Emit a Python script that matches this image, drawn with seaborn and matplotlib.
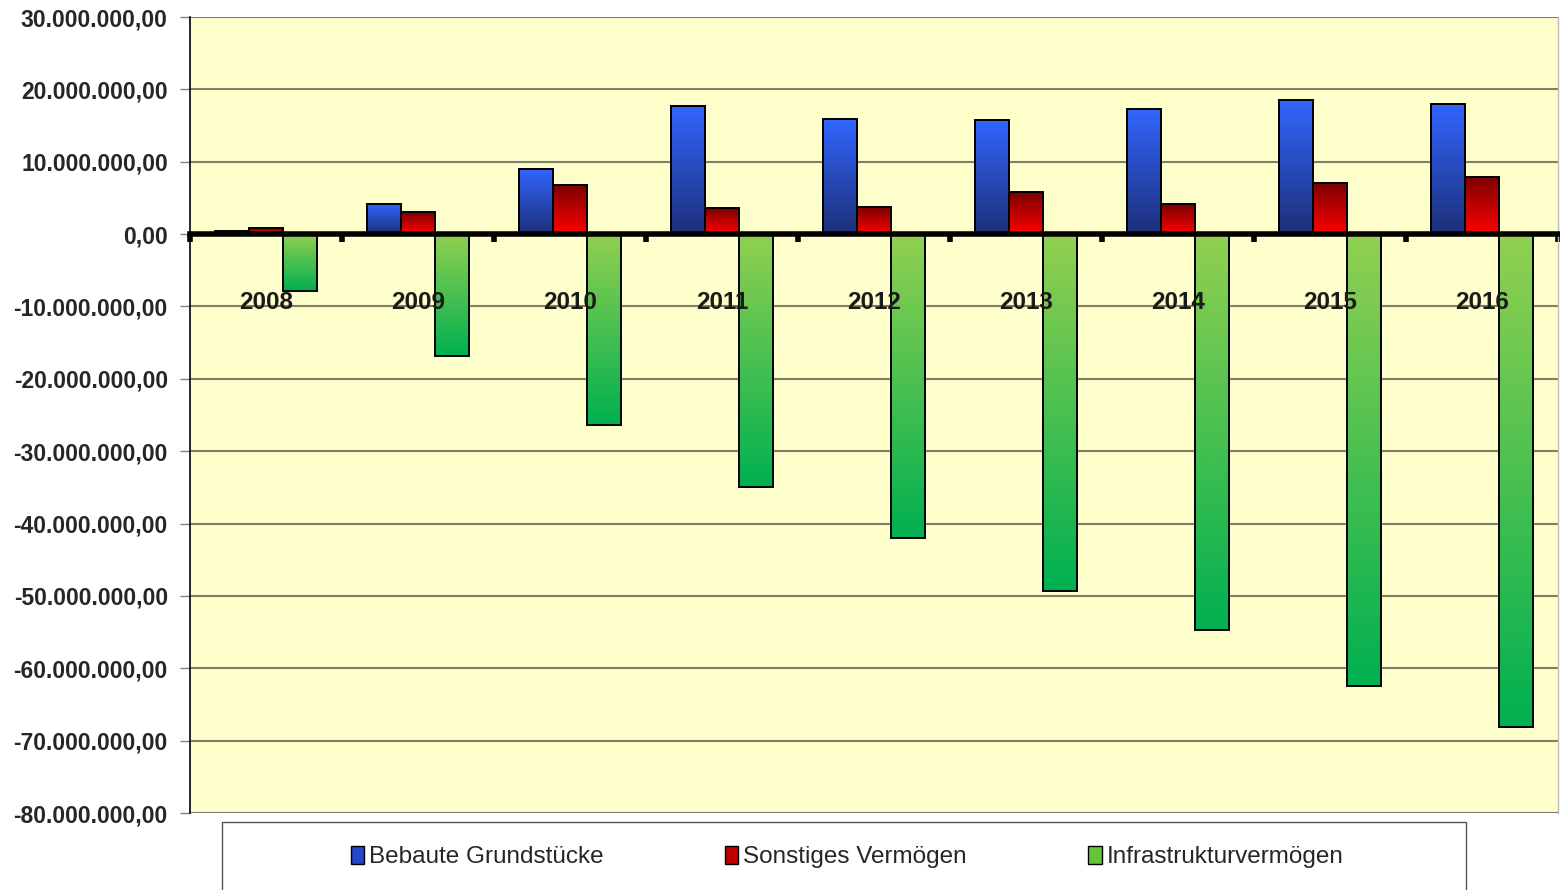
import numpy as np
import pandas as pd
import seaborn as sns
import matplotlib.pyplot as plt
from matplotlib.colors import LinearSegmentedColormap
from matplotlib.patches import Patch, Rectangle
from matplotlib.ticker import FuncFormatter, FixedLocator

# values, in euro
years = ['2008', '2009', '2010', '2011', '2012', '2013', '2014', '2015', '2016']
bebaute = [0.4e6, 4.2e6, 9.0e6, 17.7e6, 15.9e6, 15.8e6, 17.3e6, 18.5e6, 18.0e6]
sonstiges = [0.8e6, 3.1e6, 6.8e6, 3.6e6, 3.7e6, 5.8e6, 4.1e6, 7.0e6, 7.9e6]
infrastruktur = [-7.9e6, -16.9e6, -26.4e6, -35.0e6, -42.0e6, -49.3e6, -54.7e6, -62.5e6, -68.1e6]
series_names = ['Bebaute Grundstücke', 'Sonstiges Vermögen', 'Infrastrukturvermögen']

# (top colour, bottom colour) of each series' gradient, plus legend colour
gradients = [('#3366ff', '#1c2f78'), ('#7a0000', '#ff0000'), ('#92d050', '#00b050')]
legend_colors = ['#2446c8', '#c00000', '#66c43c']

df = pd.concat([
    pd.DataFrame({'year': years, 'value': vals, 'series': name})
    for name, vals in zip(series_names, [bebaute, sonstiges, infrastruktur])
])

sns.set_style('white')
plt.rcParams['font.family'] = ['Liberation Sans', 'DejaVu Sans']

fig = plt.figure(figsize=(15.6, 8.9), dpi=100)
ax = fig.add_axes([190 / 1560, 1 - 813 / 890, 1368 / 1560, 796 / 890])
ax.set_facecolor('#ffffcc')

sns.barplot(data=df, x='year', y='value', hue='series', palette=legend_colors,
            width=0.67, gap=0, legend=False, ax=ax, edgecolor='black', linewidth=1.4)


def fill_gradient(ax, patch, top, bottom):
    x, w = patch.get_x(), patch.get_width()
    y0 = min(patch.get_y(), patch.get_y() + patch.get_height())
    y1 = max(patch.get_y(), patch.get_y() + patch.get_height())
    cmap = LinearSegmentedColormap.from_list('g', [bottom, top])
    grad = np.linspace(0, 1, 256).reshape(-1, 1)
    im = ax.imshow(grad, extent=[x, x + w, y0, y1], origin='lower', cmap=cmap,
                   aspect='auto', zorder=1.5, interpolation='bilinear')
    im.set_clip_path(patch)
    patch.set_facecolor('none')
    patch.set_zorder(2)


for container, (top, bottom) in zip(ax.containers, gradients):
    for patch in container:
        fill_gradient(ax, patch, top, bottom)

ax.set_xlim(-0.5, 8.5)
ax.set_ylim(-80e6, 30e6)
ax.set_yticks(np.arange(-80e6, 30e6 + 1, 10e6))


def de_format(v, pos):
    return f'{v:,.2f}'.replace(',', 'X').replace('.', ',').replace('X', '.')


ax.yaxis.set_major_formatter(FuncFormatter(de_format))
ax.grid(axis='y', color='#7f7f68', linewidth=1.5)
ax.set_axisbelow(True)

# category axis crossing at zero
ax.spines['bottom'].set_position(('data', 0))
ax.spines['bottom'].set_linewidth(4)
ax.spines['bottom'].set_color('black')
ax.spines['bottom'].set_zorder(3)
ax.spines['left'].set_color('black')
ax.spines['left'].set_linewidth(1.2)
ax.spines['top'].set_visible(False)
ax.spines['right'].set_color('#bbbbbb')
ax.spines['right'].set_linewidth(1)

ax.xaxis.set_minor_locator(FixedLocator(np.arange(-0.5, 9, 1)))
ax.tick_params(axis='x', which='minor', bottom=True, length=6, width=4,
               color='black', direction='out')
ax.tick_params(axis='x', which='major', length=0, labelbottom=False)

# year labels sit on top of the bars, below the zero line
for i, yr in enumerate(years):
    ax.text(i, -9.4e6, yr, ha='center', va='center', fontsize=17.5,
            fontweight='bold', color='#1a1a1a', zorder=5)

ax.tick_params(axis='y', length=7, color='#808080', width=1, pad=9, labelsize=16.5, left=True)
for lbl in ax.get_yticklabels():
    lbl.set_fontweight('bold')

ax.set_xlabel('')
ax.set_ylabel('')

# legend with its own box below the plot
fig.patches.append(Rectangle((222 / 1560, -0.05), (1466 - 222) / 1560, 0.05 + 1 - 822 / 890,
                             transform=fig.transFigure, facecolor='white',
                             edgecolor='#555555', linewidth=1))
handles = [Patch(facecolor=c, edgecolor='black', linewidth=1) for c in legend_colors]
fig.legend(handles, series_names, loc='center', bbox_to_anchor=(847 / 1560, 1 - 857 / 890),
           ncol=3, frameon=False, fontsize=17.5, handlelength=0.55, handleheight=0.8,
           handletextpad=0.2, columnspacing=5.0)

fig.savefig('out.png', dpi=100)
